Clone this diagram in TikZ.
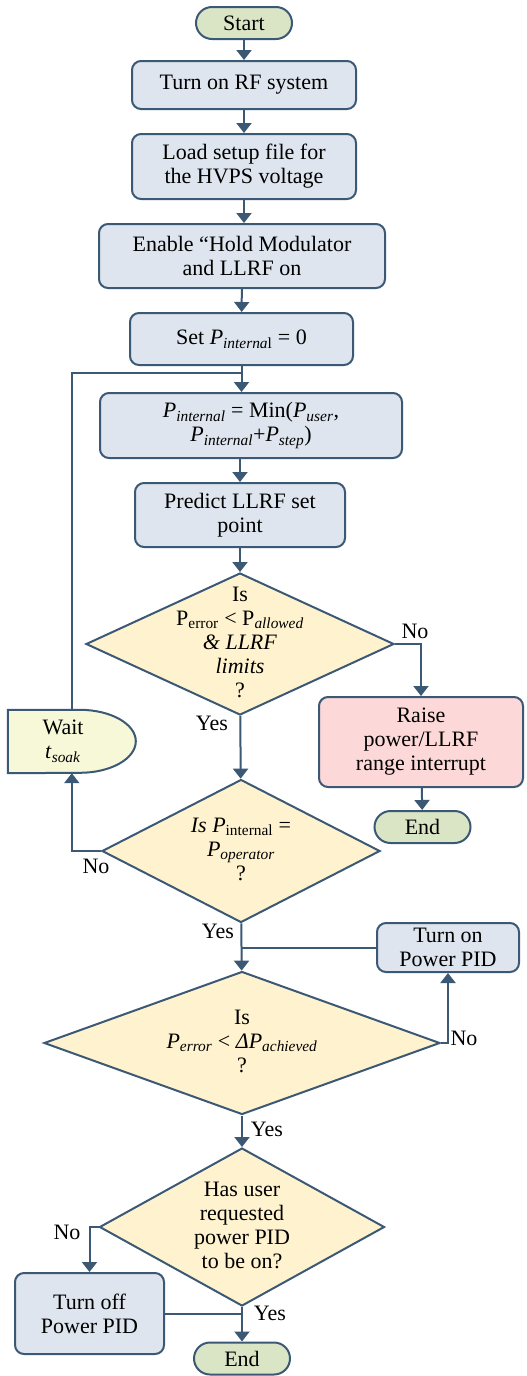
\documentclass[tikz,border=0pt]{standalone}
\usepackage{fontspec}
\setmainfont{Liberation Serif}
\usepackage{xcolor}
\usepackage{tikz}
\usetikzlibrary{arrows.meta, positioning}
\usetikzlibrary{shapes.geometric}
\usetikzlibrary{backgrounds}
\usetikzlibrary{calc}

\definecolor{lineblue}{HTML}{3B5875}
\definecolor{boxblue}{HTML}{DEE5EE}
\definecolor{askyellow}{HTML}{FFF3CF}
\definecolor{endgreen}{HTML}{DAE5C6}
\definecolor{alarmpink}{HTML}{FDD8D8}
\definecolor{waitgreen}{HTML}{F6F8D8}

\newcommand{\isub}[2]{\textit{#1}\textsubscript{\textit{#2}}}
\newcommand{\flatbox}[1]{\raisebox{-0.25em}[0pt][0pt]{\begin{tabular}{@{}c@{}}#1\end{tabular}}}

\begin{document}
\begin{tikzpicture}[x=1pt, y=-1pt,
        every node/.style={font=\fontsize{22}{24}\selectfont, text=black},
        proc/.style={draw=lineblue, line width=2pt, fill=boxblue, rounded corners=9pt, align=center, inner sep=0pt},
        term/.style={draw=lineblue, line width=2pt, fill=endgreen, rounded corners=16pt, minimum width=96pt, minimum height=32pt, inner sep=0pt},
        ask/.style={diamond, aspect=2, draw=lineblue, line width=2pt, fill=askyellow, inner sep=0pt},
        flow/.style={draw=lineblue, line width=2pt, -{Triangle[width=15pt,length=10pt]}},
        link/.style={draw=lineblue, line width=2pt},
        yesno/.style={anchor=base, inner sep=0pt}]
        \useasboundingbox (0,0) rectangle (527,1376);

        % start-up steps
        \node[term] (start) at (244,23) {Start};
        \node[proc, minimum width=224pt, minimum height=48pt] (rfon) at (244,85) {Turn on RF system};
        \node[proc, minimum width=224pt, minimum height=65pt] (load) at (244,166.5) {Load setup file for\\the HVPS voltage};
        \node[proc, minimum width=286pt, minimum height=64pt] (enable) at (242,256) {Enable “Hold Modulator\\and LLRF on};
        \node[proc, minimum width=223pt, minimum height=52pt] (setp) at (241.5,339) {Set \textit{P}\textsubscript{\textit{interna}l} = 0};
        \draw[flow] (start) -- (rfon);
        \draw[flow] (rfon) -- (load);
        \draw[flow] (load.south) -- (load.south |- enable.north);
        \draw[flow] (enable) -- (setp);

        % ramp loop
        \node[proc, minimum width=302pt, minimum height=65pt] (pint) at (251,425.5) {\isub{P}{internal} = Min(\isub{P}{user},\\\isub{P}{internal}+\isub{P}{step})};
        \node[proc, minimum width=210pt, minimum height=64pt] (predict) at (240,515) {Predict LLRF set\\point};
        \node[ask, minimum width=308pt, minimum height=142pt] (d1) at (240,644) {\flatbox{Is\\P\textsubscript{error} < P\textsubscript{\textit{allowed}}\\\textit{\& LLRF}\\\textit{limits}\\?}};
        \node[ask, minimum width=278pt, minimum height=143pt] (d2) at (241,851) {\flatbox{\textit{Is P}\textsubscript{internal} =\\\isub{P}{operator}\\?}};
        \node[align=center, minimum width=110pt, minimum height=63pt, inner sep=0pt] (wait) at (63,741.5) {Wait\\\isub{t}{soak}};
        \begin{scope}[on background layer]
            \filldraw[draw=lineblue, fill=waitgreen, line width=2pt] (wait.south west) -- (wait.north west) -- ([xshift=72pt]wait.north west) arc[start angle=90, end angle=-90, x radius=56pt, y radius=31.5pt] -- cycle;
        \end{scope}
        \coordinate (jn1) at (241.5,373);
        \draw[flow] (setp.south) -- (setp.south |- pint.north);
        \draw[flow] (predict.north |- pint.south) -- (predict.north);
        \draw[flow] (predict) -- (d1);
        \draw[flow] (d1) -- (d2);
        \draw[flow] (d2.west) -| ([xshift=64pt]wait.south west);
        \draw[link] ([xshift=64pt]wait.north west) |- (jn1);

        % out of range branch
        \node[proc, fill=alarmpink, minimum width=204pt, minimum height=90pt] (raise) at (421,742) {Raise\\power/LLRF\\range interrupt};
        \node[term] (end1) at (422.5,827) {End};
        \draw[flow] (d1.east) -| (raise.north);
        \draw[flow] (raise) -- (end1);

        % power PID checks
        \node[ask, minimum width=396pt, minimum height=143pt] (d3) at (242,1043) {\flatbox{Is\\\isub{P}{error} < \isub{ΔP}{achieved}\\?}};
        \node[proc, minimum width=142pt, minimum height=49pt] (pidon) at (448,947.5) {Turn on\\Power PID};
        \node[ask, minimum width=285pt, minimum height=158pt] (d4) at (242,1227) {\flatbox{Has user\\requested\\power PID\\to be on?}};
        \node[proc, minimum width=149pt, minimum height=81pt] (pidoff) at (89.5,1313.5) {Turn off\\Power PID};
        \node[term] (end2) at (242,1358.5) {End};
        \draw[flow] (d2) -- (d3);
        \draw[link] (pidon.west) -- (pidon.west -| d3.north);
        \draw[flow] (d3.east) -| (pidon.south);
        \draw[flow] (d3) -- (d4);
        \draw[flow] (d4.west) -| (pidoff.north);
        \draw[flow] (d4) -- (end2);
        \draw[link] (pidoff.east) -- (pidoff.east -| d4.south);

        % branch labels
        \node[yesno] (no1) at (415,638) {No};
        \node[yesno] (yes1) at (212,730) {Yes};
        \node[yesno] (no2) at (96,873) {No};
        \node[yesno] (yes2) at (218,938) {Yes};
        \node[yesno] (no3) at (464,1045) {No};
        \node[yesno] (yes3) at (267,1136) {Yes};
        \node[yesno] (no4) at (67,1239) {No};
        \node[yesno] (yes4) at (270,1320) {Yes};
\end{tikzpicture}
\end{document}
